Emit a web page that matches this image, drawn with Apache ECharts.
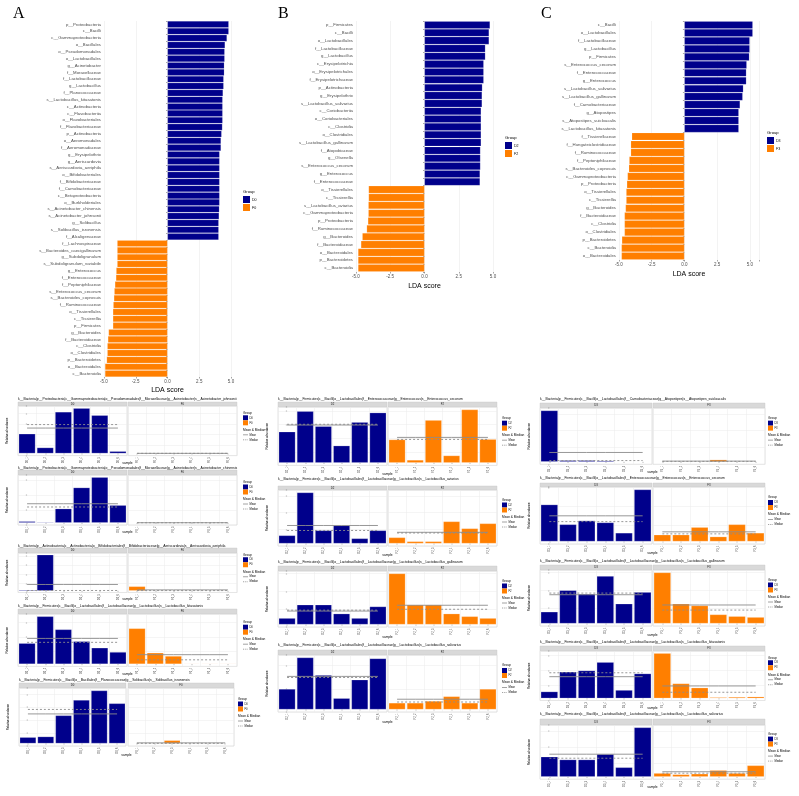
<!DOCTYPE html>
<html><head><meta charset="utf-8">
<script src="https://cdn.jsdelivr.net/npm/echarts/dist/echarts.min.js"></script>
<style>html,body{margin:0;padding:0;background:#fff}#c{width:799px;height:796px}</style>
</head><body><div id="c"></div>
<script>
// ---------------- DATA ----------------
const ldaA_groups = ['D0','F0'];
const ldaA_labels = ['p__Proteobacteria','c__Bacilli','c__Gammaproteobacteria','o__Bacillales','o__Pseudomonadales','o__Lactobacillales','g__Acinetobacter','f__Moraxellaceae','f__Lactobacillaceae','g__Lactobacillus','f__Planococcaceae','s__Lactobacillus_kitasatonis','c__Actinobacteria','c__Flavobacteriia','o__Flavobacteriales','f__Flavobacteriaceae','p__Actinobacteria','o__Aeromonadales','f__Aeromonadaceae','g__Erysipelothrix','g__Aeriscardovia','s__Aeriscardovia_aeriphila','o__Bifidobacteriales','f__Bifidobacteriaceae','f__Carnobacteriaceae','c__Betaproteobacteria','o__Burkholderiales','s__Acinetobacter_chinensis','s__Acinetobacter_johnsonii','g__Solibacillus','s__Solibacillus_isronensis','f__Alcaligenaceae','f__Lachnospiraceae','s__Bacteroides_caecigallinarum','g__Subdoligranulum','s__Subdoligranulum_variabile','g__Enterococcus','f__Enterococcaceae','f__Peptoniphilaceae','s__Enterococcus_cecorum','s__Bacteroides_coprosuis','f__Ruminococcaceae','o__Tissierellales','c__Tissierellia','p__Firmicutes','g__Bacteroides','f__Bacteroidaceae','c__Clostridia','o__Clostridiales','p__Bacteroidetes','o__Bacteroidales','c__Bacteroidia'];
const ldaA_scores = [4.82,4.82,4.68,4.53,4.50,4.50,4.47,4.47,4.42,4.42,4.37,4.34,4.34,4.34,4.34,4.32,4.26,4.21,4.21,4.10,4.10,4.10,4.10,4.10,4.10,4.10,4.10,4.08,4.06,4.03,4.03,4.03,-3.96,-3.96,-3.96,-3.96,-4.04,-4.06,-4.14,-4.19,-4.22,-4.27,-4.30,-4.30,-4.30,-4.64,-4.69,-4.74,-4.74,-4.79,-4.92,-4.92];

const ldaB_groups = ['D2','F2'];
const ldaB_labels = ['p__Firmicutes','c__Bacilli','o__Lactobacillales','f__Lactobacillaceae','g__Lactobacillus','c__Erysipelotrichia','o__Erysipelotrichales','f__Erysipelotrichaceae','p__Actinobacteria','g__Erysipelothrix','s__Lactobacillus_salivarius','c__Coriobacteriia','o__Coriobacteriales','c__Clostridia','o__Clostridiales','s__Lactobacillus_gallinarum','f__Atopobiaceae','g__Olsenella','s__Enterococcus_cecorum','g__Enterococcus','f__Enterococcaceae','o__Tissierellales','c__Tissierellia','s__Lactobacillus_aviarius','c__Gammaproteobacteria','p__Proteobacteria','f__Ruminococcaceae','g__Bacteroides','f__Bacteroidaceae','o__Bacteroidales','p__Bacteroidetes','c__Bacteroidia'];
const ldaB_scores = [4.78,4.71,4.71,4.44,4.44,4.32,4.32,4.32,4.22,4.20,4.20,4.13,4.13,4.13,4.13,4.13,4.08,4.08,4.08,4.05,4.05,-4.08,-4.08,-4.10,-4.10,-4.13,-4.22,-4.54,-4.64,-4.85,-4.85,-4.85];

const ldaC_groups = ['D3','F3'];
const ldaC_labels = ['c__Bacilli','o__Lactobacillales','f__Lactobacillaceae','g__Lactobacillus','p__Firmicutes','s__Enterococcus_cecorum','f__Enterococcaceae','g__Enterococcus','s__Lactobacillus_salivarius','s__Lactobacillus_gallinarum','f__Carnobacteriaceae','g__Atopostipes','s__Atopostipes_suicloacalis','s__Lactobacillus_kitasatonis','f__Tissierellaceae','f__Hungateiclostridiaceae','f__Ruminococcaceae','f__Peptoniphilaceae','s__Bacteroides_coprosuis','c__Gammaproteobacteria','p__Proteobacteria','o__Tissierellales','c__Tissierellia','g__Bacteroides','f__Bacteroidaceae','c__Clostridia','o__Clostridiales','p__Bacteroidetes','c__Bacteroidia','o__Bacteroidales'];
const ldaC_scores = [5.22,5.22,4.99,4.99,4.96,4.76,4.73,4.73,4.50,4.45,4.25,4.15,4.15,4.15,-4.02,-4.10,-4.10,-4.22,-4.25,-4.35,-4.40,-4.45,-4.45,-4.50,-4.58,-4.58,-4.58,-4.78,-4.81,-4.81];

const samplesA = [['D0_1','D0_2','D0_3','D0_4','D0_5','D0_6'],['F0_1','F0_2','F0_3','F0_4','F0_5','F0_6']];
const samplesB = [['D2_1','D2_2','D2_3','D2_4','D2_5','D2_6'],['F2_1','F2_2','F2_3','F2_4','F2_5','F2_6']];
const samplesC = [['D3_1','D3_2','D3_3','D3_4','D3_5','D3_6'],['F3_1','F3_2','F3_3','F3_4','F3_5','F3_6']];

const A1_title = 'k__Bacteria|p__Proteobacteria|c__Gammaproteobacteria|o__Pseudomonadales|f__Moraxellaceae|g__Acinetobacter|s__Acinetobacter_johnsonii';
const A1_D = [18560,5440,39360,42880,36160,1920];
const A1_F = [0,0,0,0,0,0];
const A2_title = 'k__Bacteria|p__Proteobacteria|c__Gammaproteobacteria|o__Pseudomonadales|f__Moraxellaceae|g__Acinetobacter|s__Acinetobacter_chinensis';
const A2_D = [900,400,9300,23300,30200,11600];
const A2_F = [0,0,0,0,0,0];
const A3_title = 'k__Bacteria|p__Actinobacteria|c__Actinobacteria|o__Bifidobacteriales|f__Bifidobacteriaceae|g__Aeriscardovia|s__Aeriscardovia_aeriphila';
const A3_D = [900,39400,150,150,150,300];
const A3_F = [4700,150,150,150,150,150];
const A4_title = 'k__Bacteria|p__Firmicutes|c__Bacilli|o__Lactobacillales|f__Lactobacillaceae|g__Lactobacillus|s__Lactobacillus_kitasatonis';
const A4_D = [14100,32400,23500,15400,11000,8100];
const A4_F = [24200,7600,5400,300,300,300];
const A5_title = 'k__Bacteria|p__Firmicutes|c__Bacilli|o__Bacillales|f__Planococcaceae|g__Solibacillus|s__Solibacillus_isronensis';
const A5_D = [4700,5200,21600,33500,40800,30900];
const A5_F = [0,0,2300,0,0,0];

const B1_title = 'k__Bacteria|p__Firmicutes|c__Bacilli|o__Lactobacillales|f__Enterococcaceae|g__Enterococcus|s__Enterococcus_cecorum';
const B1_D = [56875,94375,66875,31250,74375,91875];
const B1_F = [42500,5000,78125,13125,97500,43125];
const B2_title = 'k__Bacteria|p__Firmicutes|c__Bacilli|o__Lactobacillales|f__Lactobacillaceae|g__Lactobacillus|s__Lactobacillus_aviarius';
const B2_D = [24000,153000,39000,54000,15000,39000];
const B2_F = [18000,6000,6000,66000,45000,60000];
const B3_title = 'k__Bacteria|p__Firmicutes|c__Bacilli|o__Lactobacillales|f__Lactobacillaceae|g__Lactobacillus|s__Lactobacillus_gallinarum';
const B3_D = [7000,22000,22000,12000,7000,20000];
const B3_F = [57000,22000,22000,12000,9000,7000];
const B4_title = 'k__Bacteria|p__Firmicutes|c__Bacilli|o__Lactobacillales|f__Lactobacillaceae|g__Lactobacillus|s__Lactobacillus_salivarius';
const B4_D = [44000,112000,74000,24000,64000,110000];
const B4_F = [14000,14000,18000,28000,14000,44000];

const C1_title = 'k__Bacteria|p__Firmicutes|c__Bacilli|o__Lactobacillales|f__Carnobacteriaceae|g__Atopostipes|s__Atopostipes_suicloacalis';
const C1_D = [15200,400,400,300,100,100];
const C1_F = [100,100,100,600,100,100];
const C2_title = 'k__Bacteria|p__Firmicutes|c__Bacilli|o__Lactobacillales|f__Enterococcaceae|g__Enterococcus|s__Enterococcus_cecorum';
const C2_D = [39000,18000,22000,20000,9000,55000];
const C2_F = [7000,7000,15000,5000,18000,9000];
const C3_title = 'k__Bacteria|p__Firmicutes|c__Bacilli|o__Lactobacillales|f__Lactobacillaceae|g__Lactobacillus|s__Lactobacillus_gallinarum';
const C3_D = [13000,37000,33000,53000,22000,35000];
const C3_F = [57000,22000,20000,10000,8000,7000];
const C4_title = 'k__Bacteria|p__Firmicutes|c__Bacilli|o__Lactobacillales|f__Lactobacillaceae|g__Lactobacillus|s__Lactobacillus_kitasatonis';
const C4_D = [2200,8800,9200,12000,2700,8200];
const C4_F = [15000,4900,3500,300,400,500];
const C5_title = 'k__Bacteria|p__Firmicutes|c__Bacilli|o__Lactobacillales|f__Lactobacillaceae|g__Lactobacillus|s__Lactobacillus_salivarius';
const C5_D = [62000,53000,53000,70000,29000,153000];
const C5_F = [11000,7000,9000,20000,11000,35000];

// ---------------- STYLE / LAYOUT ----------------
const BLUE = '#00008B', ORANGE = '#FF7F00';
const SANS = 'Liberation Sans, Arial, sans-serif';
const option = {animation:false, backgroundColor:'#fff', textStyle:{fontFamily:SANS}, grid:[], xAxis:[], yAxis:[], series:[], graphic:[]};
const G = option.graphic;
function txt(x,y,s,fs,o){ G.push(Object.assign({type:'text', x:x, y:y, silent:true, style:Object.assign({text:s, fontSize:fs, fontFamily:SANS, fill:'#000', textAlign:'left', textVerticalAlign:'middle'}, o&&o.style||{})}, o&&o.el||{})); }
function rect(x,y,w,h,fill,stroke){ G.push({type:'rect', silent:true, shape:{x:x,y:y,width:w,height:h}, style:{fill:fill, stroke:stroke||null, lineWidth:0.4}}); }
function line(x1,y1,x2,y2,color,dash){ G.push({type:'line', silent:true, shape:{x1:x1,y1:y1,x2:x2,y2:y2}, style:{stroke:color, lineWidth:0.8, lineDash:dash||null}}); }
function isMult(v,iv){ const r=v/iv; return Math.abs(r-Math.round(r))<1e-6; }

function addLDA(labels, scores, groups, c){
  const gi = option.grid.length;
  option.grid.push({left:c.x0, top:c.top, width:c.x1-c.x0, height:c.bottom-c.top});
  option.xAxis.push({type:'value', gridIndex:gi, min:-5, max:c.xmax, interval:2.5,
    axisLine:{show:false}, axisTick:{show:true,length:1.5,lineStyle:{color:'#4d4d4d',width:0.5}},
    axisLabel:{fontSize:4.5, color:'#4d4d4d', margin:2.5, formatter:v=>isMult(v,2.5)?v.toFixed(1):''},
    splitLine:{show:true, lineStyle:{color:'#ebebeb', width:0.6}},
    name:'LDA score', nameLocation:'middle', nameGap:c.ng, nameTextStyle:{fontSize:7, color:'#000', fontFamily:SANS}});
  option.yAxis.push({type:'category', gridIndex:gi, data:labels, inverse:true,
    axisLine:{show:false}, axisTick:{show:true,length:1.5,lineStyle:{color:'#4d4d4d',width:0.5}},
    axisLabel:{fontSize:4.3, color:'#4d4d4d', margin:c.lm, interval:0}, splitLine:{show:false}});
  option.series.push({type:'bar', xAxisIndex:gi, yAxisIndex:gi, barCategoryGap:'5%',
    data:scores.map(v=>({value:v, itemStyle:{color:v>0?BLUE:ORANGE}})),
    itemStyle:{borderColor:'rgba(255,255,255,0.35)', borderWidth:0.4}});
  txt(c.lx, c.ly, c.letter, 16, {style:{fontFamily:'Liberation Serif, serif'}});
  txt(c.gx, c.gy, 'Group', 4.2, {style:{fill:'#000'}});
  rect(c.gx, c.gy+4, 7, 7, BLUE); rect(c.gx, c.gy+12, 7, 7, ORANGE);
  txt(c.gx+9, c.gy+7.5, groups[0], 3.6); txt(c.gx+9, c.gy+15.5, groups[1], 3.6);
}

function addSmall(p){
  const all = p.data[0].concat(p.data[1]);
  const dmax = Math.max(...all);
  const ymin = -0.05*dmax, ymax = 1.05*dmax;
  for (let f=0; f<2; f++){
    const [x0,x1] = p.fx[f];
    const gi = option.grid.length;
    option.grid.push({left:x0, top:p.plotTop, width:x1-x0, height:p.plotBottom-p.plotTop, show:true, borderColor:'#c4c4c4', borderWidth:0.5, backgroundColor:'#fff'});
    const xi = option.xAxis.length;
    option.xAxis.push({type:'category', gridIndex:gi, data:p.samples[f],
      axisLine:{show:false}, axisTick:{show:true,length:1.2,alignWithLabel:true,lineStyle:{color:'#4d4d4d',width:0.4}},
      axisLabel:{rotate:90, fontSize:2.6, color:'#4d4d4d', margin:1.5, interval:0}, splitLine:{show:false}});
    option.xAxis.push({type:'value', gridIndex:gi, min:-0.5, max:p.data[f].length-0.5, interval:1,
      axisLine:{show:false}, axisTick:{show:false}, axisLabel:{show:false},
      splitLine:{show:true, lineStyle:{color:'#ebebeb', width:0.5}}});
    const yi = option.yAxis.length;
    option.yAxis.push({type:'value', gridIndex:gi, min:ymin, max:ymax, interval:p.iv,
      axisLine:{show:false}, axisTick:{show:f===0,length:1.2,lineStyle:{color:'#4d4d4d',width:0.4}},
      axisLabel:{show:f===0, fontSize:2.8, color:'#4d4d4d', margin:1.5, formatter:v=>(v>=0&&isMult(v,p.iv))?String(Math.round(v)):''},
      splitLine:{show:true, lineStyle:{color:'#ebebeb', width:0.5}}});
    const d = p.data[f];
    const mean = d.reduce((a,b)=>a+b,0)/d.length;
    const s = d.slice().sort((a,b)=>a-b);
    const med = (s[2]+s[3])/2;
    option.series.push({type:'bar', xAxisIndex:xi, yAxisIndex:yi, data:d, barCategoryGap:'9%',
      itemStyle:{color:f===0?BLUE:ORANGE, borderColor:'rgba(255,255,255,0.5)', borderWidth:0.4}});
    option.series.push({type:'line', xAxisIndex:xi, yAxisIndex:yi, data:d.map(()=>mean), showSymbol:false, symbol:'none', z:5,
      lineStyle:{color:'#8c8c8c', width:0.9}});
    option.series.push({type:'line', xAxisIndex:xi, yAxisIndex:yi, data:d.map(()=>med), showSymbol:false, symbol:'none', z:5,
      lineStyle:{color:'#8c8c8c', width:0.9, type:[2,2]}});
    rect(x0, p.stripTop, x1-x0, p.plotTop-p.stripTop, '#d9d9d9', '#c4c4c4');
    txt((x0+x1)/2, (p.stripTop+p.plotTop)/2, p.groups[f], 2.8, {style:{textAlign:'center', fill:'#1a1a1a'}});
  }
  const L = p.fx[0][0], R = p.fx[1][1];
  txt(L, p.titleY, p.title, 3.4);
  txt((L+R)/2, p.sampleY, 'sample', 3.2, {style:{textAlign:'center'}});
  G.push({type:'text', silent:true, x:L-11, y:(p.plotTop+p.plotBottom)/2, rotation:Math.PI/2,
    style:{text:'Relative abundance', fontSize:3, fontFamily:SANS, fill:'#000', textAlign:'center', textVerticalAlign:'middle'}});
  const lx = p.legX, ly = (p.plotTop+p.plotBottom)/2 - 18;
  txt(lx, ly, 'Group', 3.2);
  rect(lx, ly+2.5, 5, 5, BLUE); rect(lx, ly+7.5, 5, 5, ORANGE);
  txt(lx+6.5, ly+5, p.groups[0], 2.6); txt(lx+6.5, ly+10, p.groups[1], 2.6);
  txt(lx, ly+17, 'Mean & Median', 3.2);
  line(lx, ly+22, lx+5, ly+22, '#8c8c8c'); txt(lx+6.5, ly+22, 'Mean', 2.6);
  line(lx, ly+27, lx+5, ly+27, '#8c8c8c', [1.2,1]); txt(lx+6.5, ly+27, 'Median', 2.6);
}

addLDA(ldaA_labels, ldaA_scores, ldaA_groups, {x0:104, x1:231, xmax:5, top:21, bottom:377, lm:3, ng:10, letter:'A', lx:13, ly:14, gx:243, gy:192});
addLDA(ldaB_labels, ldaB_scores, ldaB_groups, {x0:356, x1:493, xmax:5, top:21, bottom:272, lm:3, ng:11, letter:'B', lx:278, ly:14, gx:505, gy:138});
addLDA(ldaC_labels, ldaC_scores, ldaC_groups, {x0:619, x1:759, xmax:5.7, top:21, bottom:260, lm:3, ng:11, letter:'C', lx:541, ly:14, gx:767, gy:133});

const fxA = [[18,127],[128,237]], fxB = [[278,387],[388,497]], fxC = [[540,652],[653,765]];
function sp(title, D, F, groups, samples, fx, legX, titleY, stripTop, plotTop, plotBottom, sampleY, iv){
  addSmall({title:title, data:[D,F], groups:groups, samples:samples, fx:fx, legX:legX, titleY:titleY, stripTop:stripTop, plotTop:plotTop, plotBottom:plotBottom, sampleY:sampleY, iv:iv});
}
sp(A1_title, A1_D, A1_F, ldaA_groups, samplesA, fxA, 243, 399, 402, 406, 455.6, 463, 10000);
sp(A2_title, A2_D, A2_F, ldaA_groups, samplesA, fxA, 243, 468, 470, 475, 525, 532, 10000);
sp(A3_title, A3_D, A3_F, ldaA_groups, samplesA, fxA, 243, 546, 548, 553, 592.5, 599, 10000);
sp(A4_title, A4_D, A4_F, ldaA_groups, samplesA, fxA, 243, 606, 609, 614, 666.4, 674, 10000);
sp(A5_title, A5_D, A5_F, ldaA_groups, samplesA, [[19,126],[128,234]], 238, 680, 683, 688, 746, 755, 10000);

sp(B1_title, B1_D, B1_F, ldaB_groups, samplesB, fxB, 502, 399, 402, 407, 465.4, 474, 25000);
sp(B2_title, B2_D, B2_F, ldaB_groups, samplesB, fxB, 502, 479, 486, 490, 546, 555, 50000);
sp(B3_title, B3_D, B3_F, ldaB_groups, samplesB, fxB, 502, 562, 566, 571, 627, 637, 20000);
sp(B4_title, B4_D, B4_F, ldaB_groups, samplesB, fxB, 502, 645, 650, 655, 712, 722, 50000);

sp(C1_title, C1_D, C1_F, ldaC_groups, samplesC, fxC, 768, 399, 403, 408, 464.3, 472, 5000);
sp(C2_title, C2_D, C2_F, ldaC_groups, samplesC, fxC, 768, 478, 483, 487, 544, 553, 20000);
sp(C3_title, C3_D, C3_F, ldaC_groups, samplesC, fxC, 768, 561, 565, 570, 626, 635, 20000);
sp(C4_title, C4_D, C4_F, ldaC_groups, samplesC, fxC, 768, 642, 646, 651, 700.5, 708, 5000);
sp(C5_title, C5_D, C5_F, ldaC_groups, samplesC, fxC, 768, 714, 719, 725, 779.2, 787, 50000);

const chart = echarts.init(document.getElementById('c'), null, {renderer:'canvas'});
chart.setOption(option);
</script>
</body></html>
